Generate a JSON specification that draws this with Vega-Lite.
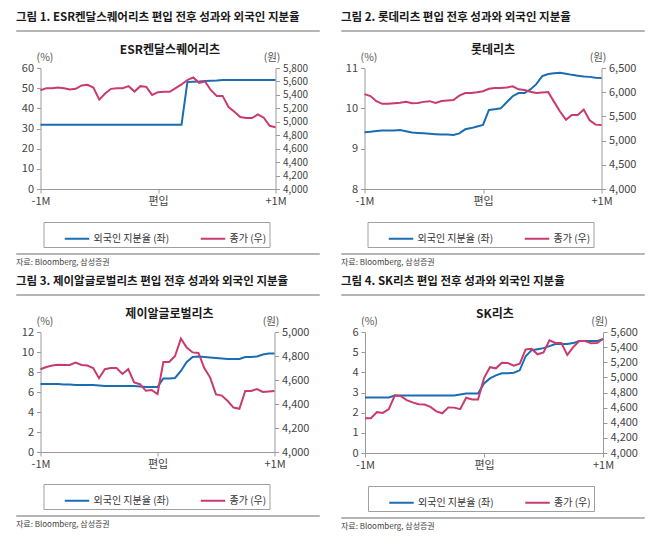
{
"$schema": "https://vega.github.io/schema/vega-lite/v6.json",
"background": "white",
"padding": {"left": 15, "top": 11, "right": 5, "bottom": 5},
"datasets": {
"p1": [{"t":0,"s":31.8,"p":5470},{"t":1,"s":31.8,"p":5500},{"t":2,"s":31.8,"p":5500},{"t":3,"s":31.8,"p":5510},{"t":4,"s":31.8,"p":5500},{"t":5,"s":31.8,"p":5480},{"t":6,"s":31.8,"p":5490},{"t":7,"s":31.8,"p":5540},{"t":8,"s":31.8,"p":5550},{"t":9,"s":31.8,"p":5510},{"t":10,"s":31.8,"p":5330},{"t":11,"s":31.8,"p":5420},{"t":12,"s":31.8,"p":5490},{"t":13,"s":31.8,"p":5500},{"t":14,"s":31.8,"p":5500},{"t":15,"s":31.8,"p":5530},{"t":16,"s":31.8,"p":5450},{"t":17,"s":31.8,"p":5530},{"t":18,"s":31.8,"p":5520},{"t":19,"s":31.8,"p":5400},{"t":20,"s":31.8,"p":5440},{"t":21,"s":31.8,"p":5445},{"t":22,"s":31.8,"p":5445},{"t":23,"s":31.8,"p":5500},{"t":24,"s":31.8,"p":5555},{"t":25,"s":53.0,"p":5620},{"t":26,"s":53.2,"p":5660},{"t":27,"s":53.3,"p":5580},{"t":28,"s":53.5,"p":5600},{"t":29,"s":53.7,"p":5470},{"t":30,"s":53.8,"p":5385},{"t":31,"s":54.0,"p":5385},{"t":32,"s":54.0,"p":5220},{"t":33,"s":54.0,"p":5150},{"t":34,"s":54.0,"p":5070},{"t":35,"s":54.0,"p":5055},{"t":36,"s":54.0,"p":5055},{"t":37,"s":54.0,"p":5110},{"t":38,"s":54.0,"p":5060},{"t":39,"s":54.0,"p":4940},{"t":40,"s":54.0,"p":4920}],
"p2": [{"t":0,"s":9.41,"p":5960},{"t":1,"s":9.42,"p":5920},{"t":2,"s":9.44,"p":5815},{"t":3,"s":9.45,"p":5760},{"t":4,"s":9.45,"p":5760},{"t":5,"s":9.45,"p":5770},{"t":6,"s":9.46,"p":5780},{"t":7,"s":9.43,"p":5800},{"t":8,"s":9.40,"p":5770},{"t":9,"s":9.39,"p":5777},{"t":10,"s":9.38,"p":5800},{"t":11,"s":9.37,"p":5815},{"t":12,"s":9.36,"p":5780},{"t":13,"s":9.35,"p":5818},{"t":14,"s":9.35,"p":5830},{"t":15,"s":9.34,"p":5839},{"t":16,"s":9.38,"p":5930},{"t":17,"s":9.48,"p":5983},{"t":18,"s":9.51,"p":5983},{"t":19,"s":9.55,"p":6000},{"t":20,"s":9.59,"p":6020},{"t":21,"s":9.96,"p":6070},{"t":22,"s":9.98,"p":6087},{"t":23,"s":10.0,"p":6087},{"t":24,"s":10.15,"p":6095},{"t":25,"s":10.3,"p":6120},{"t":26,"s":10.38,"p":6060},{"t":27,"s":10.38,"p":6045},{"t":28,"s":10.47,"p":6010},{"t":29,"s":10.6,"p":5985},{"t":30,"s":10.8,"p":5995},{"t":31,"s":10.85,"p":6004},{"t":32,"s":10.87,"p":5800},{"t":33,"s":10.88,"p":5600},{"t":34,"s":10.86,"p":5430},{"t":35,"s":10.83,"p":5529},{"t":36,"s":10.81,"p":5529},{"t":37,"s":10.79,"p":5640},{"t":38,"s":10.78,"p":5420},{"t":39,"s":10.76,"p":5330},{"t":40,"s":10.75,"p":5322}],
"p3": [{"t":0,"s":6.8,"p":4690},{"t":1,"s":6.8,"p":4708},{"t":2,"s":6.8,"p":4720},{"t":3,"s":6.8,"p":4728},{"t":4,"s":6.75,"p":4725},{"t":5,"s":6.75,"p":4725},{"t":6,"s":6.7,"p":4745},{"t":7,"s":6.7,"p":4725},{"t":8,"s":6.7,"p":4720},{"t":9,"s":6.7,"p":4700},{"t":10,"s":6.65,"p":4615},{"t":11,"s":6.6,"p":4690},{"t":12,"s":6.6,"p":4700},{"t":13,"s":6.6,"p":4700},{"t":14,"s":6.6,"p":4650},{"t":15,"s":6.6,"p":4690},{"t":16,"s":6.6,"p":4580},{"t":17,"s":6.55,"p":4565},{"t":18,"s":6.5,"p":4510},{"t":19,"s":6.5,"p":4517},{"t":20,"s":6.5,"p":4483},{"t":21,"s":7.35,"p":4750},{"t":22,"s":7.35,"p":4750},{"t":23,"s":7.4,"p":4800},{"t":24,"s":8.1,"p":4945},{"t":25,"s":9.0,"p":4870},{"t":26,"s":9.5,"p":4830},{"t":27,"s":9.55,"p":4825},{"t":28,"s":9.5,"p":4700},{"t":29,"s":9.45,"p":4620},{"t":30,"s":9.4,"p":4480},{"t":31,"s":9.35,"p":4470},{"t":32,"s":9.3,"p":4425},{"t":33,"s":9.3,"p":4370},{"t":34,"s":9.3,"p":4360},{"t":35,"s":9.5,"p":4508},{"t":36,"s":9.5,"p":4508},{"t":37,"s":9.55,"p":4525},{"t":38,"s":9.75,"p":4500},{"t":39,"s":9.85,"p":4505},{"t":40,"s":9.85,"p":4508}],
"p4": [{"t":0,"s":2.75,"p":4459},{"t":1,"s":2.75,"p":4459},{"t":2,"s":2.75,"p":4540},{"t":3,"s":2.75,"p":4530},{"t":4,"s":2.75,"p":4580},{"t":5,"s":2.85,"p":4760},{"t":6,"s":2.85,"p":4755},{"t":7,"s":2.85,"p":4700},{"t":8,"s":2.85,"p":4669},{"t":9,"s":2.85,"p":4645},{"t":10,"s":2.85,"p":4642},{"t":11,"s":2.85,"p":4610},{"t":12,"s":2.85,"p":4551},{"t":13,"s":2.85,"p":4525},{"t":14,"s":2.85,"p":4603},{"t":15,"s":2.85,"p":4600},{"t":16,"s":2.9,"p":4580},{"t":17,"s":2.95,"p":4730},{"t":18,"s":2.95,"p":4708},{"t":19,"s":2.95,"p":4708},{"t":20,"s":3.45,"p":4990},{"t":21,"s":3.7,"p":5135},{"t":22,"s":3.85,"p":5120},{"t":23,"s":3.95,"p":5193},{"t":24,"s":3.95,"p":5190},{"t":25,"s":3.98,"p":5155},{"t":26,"s":4.1,"p":5180},{"t":27,"s":4.8,"p":5370},{"t":28,"s":5.1,"p":5377},{"t":29,"s":5.15,"p":5305},{"t":30,"s":5.2,"p":5330},{"t":31,"s":5.3,"p":5490},{"t":32,"s":5.4,"p":5455},{"t":33,"s":5.4,"p":5455},{"t":34,"s":5.4,"p":5298},{"t":35,"s":5.45,"p":5400},{"t":36,"s":5.55,"p":5481},{"t":37,"s":5.55,"p":5481},{"t":38,"s":5.55,"p":5450},{"t":39,"s":5.55,"p":5455},{"t":40,"s":5.65,"p":5508}]
},
"vconcat": [
{"hconcat": [
 {"vconcat": [
  {"vconcat": [
   {"title": {"text": "그림 1. ESR켄달스퀘어리츠 편입 전후 성과와 외국인 지분율", "anchor": "start", "fontSize": 11.5, "fontWeight": "bold", "color": "#1a1a1a", "offset": 7},
    "width": 303, "height": 1, "data": {"values": []}, "mark": "point", "view": {"stroke": "#b5b5b5", "strokeWidth": 1}},
   {"hconcat": [
     {"width": 1, "height": 1, "data": {"values": []}, "mark": "point"},
     {"width": 235, "height": 121,
      "title": {"text": "ESR켄달스퀘어리츠", "fontSize": 12, "fontWeight": "bold", "color": "#1a1a1a", "offset": -5, "dx": 12},
      "data": {"name": "p1"},
      "layer": [
       {"mark": {"type": "line", "strokeWidth": 2},
        "encoding": {
         "x": {"field": "t", "type": "quantitative", "scale": {"domain": [0, 40], "nice": false}, "axis": {"values": [0, 20, 40], "labelExpr": "datum.value == 0 ? '-1M' : (datum.value == 20 ? '편입' : '+1M')", "title": null, "labelFlush": false, "labelPadding": 2}},
         "y": {"field": "s", "type": "quantitative", "scale": {"domain": [0, 60], "nice": false, "zero": false}, "axis": {"orient": "left", "values": [0, 10, 20, 30, 40, 50, 60], "title": "(%)", "titleX": 4, "titleY": -11}},
         "color": {"datum": "외국인 지분율 (좌)", "scale": {"domain": ["외국인 지분율 (좌)", "종가 (우)"], "range": ["#1b6db3", "#c93a6f"]},
          "legend": {"title": "\u3000", "orient": "none", "legendX": 3, "legendY": 154, "labelExpr": "datum.label == '종가 (우)' ? datum.label + '\u3000\u3000' : datum.label"}}}},
       {"mark": {"type": "line", "strokeWidth": 2},
        "encoding": {
         "x": {"field": "t", "type": "quantitative"},
         "y": {"field": "p", "type": "quantitative", "scale": {"domain": [4000, 5800], "nice": false, "zero": false}, "axis": {"orient": "right", "values": [4000, 4200, 4400, 4600, 4800, 5000, 5200, 5400, 5600, 5800], "format": ",d", "title": "(원)", "titleX": -4, "titleY": -11, "labelFontSize": 10}},
         "color": {"datum": "종가 (우)"}}}
      ],
      "resolve": {"scale": {"y": "independent"}}}
   ], "spacing": 3.5, "resolve": {"scale": {"color": "independent"}}}
  ], "spacing": 12, "resolve": {"scale": {"color": "independent"}}},
  {"title": {"text": "자료: Bloomberg, 삼성증권", "orient": "bottom", "anchor": "start", "fontSize": 8, "fontWeight": "normal", "color": "#444", "offset": 5},
   "width": 303, "height": 1, "data": {"values": []}, "mark": "point", "view": {"stroke": "#b5b5b5", "strokeWidth": 1}}
 ], "spacing": 4, "resolve": {"scale": {"color": "independent"}}},
 {"vconcat": [
  {"vconcat": [
   {"title": {"text": "그림 2. 롯데리츠 편입 전후 성과와 외국인 지분율", "anchor": "start", "fontSize": 11.5, "fontWeight": "bold", "color": "#1a1a1a", "offset": 7},
    "width": 303, "height": 1, "data": {"values": []}, "mark": "point", "view": {"stroke": "#b5b5b5", "strokeWidth": 1}},
   {"hconcat": [
     {"width": 1, "height": 1, "data": {"values": []}, "mark": "point"},
     {"width": 237, "height": 121,
      "title": {"text": "롯데리츠", "fontSize": 12, "fontWeight": "bold", "color": "#1a1a1a", "offset": -5, "dx": 10},
      "data": {"name": "p2"},
      "layer": [
       {"mark": {"type": "line", "strokeWidth": 2},
        "encoding": {
         "x": {"field": "t", "type": "quantitative", "scale": {"domain": [0, 40], "nice": false}, "axis": {"values": [0, 20, 40], "labelExpr": "datum.value == 0 ? '-1M' : (datum.value == 20 ? '편입' : '+1M')", "title": null, "labelFlush": false, "labelPadding": 2}},
         "y": {"field": "s", "type": "quantitative", "scale": {"domain": [8, 11], "nice": false, "zero": false}, "axis": {"orient": "left", "values": [8, 9, 10, 11], "title": "(%)", "titleX": 4, "titleY": -11}},
         "color": {"datum": "외국인 지분율 (좌)", "scale": {"domain": ["외국인 지분율 (좌)", "종가 (우)"], "range": ["#1b6db3", "#c93a6f"]},
          "legend": {"title": "\u3000", "orient": "none", "legendX": 3, "legendY": 154, "labelExpr": "datum.label == '종가 (우)' ? datum.label + '\u3000\u3000\u3000\u3000' : datum.label"}}}},
       {"mark": {"type": "line", "strokeWidth": 2},
        "encoding": {
         "x": {"field": "t", "type": "quantitative"},
         "y": {"field": "p", "type": "quantitative", "scale": {"domain": [4000, 6500], "nice": false, "zero": false}, "axis": {"orient": "right", "values": [4000, 4500, 5000, 5500, 6000, 6500], "format": ",d", "title": "(원)", "titleX": -4, "titleY": -11}},
         "color": {"datum": "종가 (우)"}}}
      ],
      "resolve": {"scale": {"y": "independent"}}}
   ], "spacing": 2.5, "resolve": {"scale": {"color": "independent"}}}
  ], "spacing": 12, "resolve": {"scale": {"color": "independent"}}},
  {"title": {"text": "자료: Bloomberg, 삼성증권", "orient": "bottom", "anchor": "start", "fontSize": 8, "fontWeight": "normal", "color": "#444", "offset": 5},
   "width": 303, "height": 1, "data": {"values": []}, "mark": "point", "view": {"stroke": "#b5b5b5", "strokeWidth": 1}}
 ], "spacing": 4, "resolve": {"scale": {"color": "independent"}}}
], "spacing": 20, "resolve": {"scale": {"color": "independent"}}},
{"hconcat": [
 {"vconcat": [
  {"vconcat": [
   {"title": {"text": "그림 3. 제이알글로벌리츠 편입 전후 성과와 외국인 지분율", "anchor": "start", "fontSize": 11.5, "fontWeight": "bold", "color": "#1a1a1a", "offset": 7},
    "width": 303, "height": 1, "data": {"values": []}, "mark": "point", "view": {"stroke": "#b5b5b5", "strokeWidth": 1}},
   {"hconcat": [
     {"width": 1, "height": 1, "data": {"values": []}, "mark": "point"},
     {"width": 234, "height": 120,
      "title": {"text": "제이알글로벌리츠", "fontSize": 12, "fontWeight": "bold", "color": "#1a1a1a", "offset": -5, "dx": 12},
      "data": {"name": "p3"},
      "layer": [
       {"mark": {"type": "line", "strokeWidth": 2},
        "encoding": {
         "x": {"field": "t", "type": "quantitative", "scale": {"domain": [0, 40], "nice": false}, "axis": {"values": [0, 20, 40], "labelExpr": "datum.value == 0 ? '-1M' : (datum.value == 20 ? '편입' : '+1M')", "title": null, "labelFlush": false, "labelPadding": 2}},
         "y": {"field": "s", "type": "quantitative", "scale": {"domain": [0, 12], "nice": false, "zero": false}, "axis": {"orient": "left", "values": [0, 2, 4, 6, 8, 10, 12], "title": "(%)", "titleX": 4, "titleY": -11}},
         "color": {"datum": "외국인 지분율 (좌)", "scale": {"domain": ["외국인 지분율 (좌)", "종가 (우)"], "range": ["#1b6db3", "#c93a6f"]},
          "legend": {"title": "\u3000", "orient": "none", "legendX": 3, "legendY": 152, "labelExpr": "datum.label == '종가 (우)' ? datum.label + '\u3000\u3000' : datum.label"}}}},
       {"mark": {"type": "line", "strokeWidth": 2},
        "encoding": {
         "x": {"field": "t", "type": "quantitative"},
         "y": {"field": "p", "type": "quantitative", "scale": {"domain": [4000, 5000], "nice": false, "zero": false}, "axis": {"orient": "right", "values": [4000, 4200, 4400, 4600, 4800, 5000], "format": ",d", "title": "(원)", "titleX": -4, "titleY": -11}},
         "color": {"datum": "종가 (우)"}}}
      ],
      "resolve": {"scale": {"y": "independent"}}}
   ], "spacing": 3.5, "resolve": {"scale": {"color": "independent"}}}
  ], "spacing": 12, "resolve": {"scale": {"color": "independent"}}},
  {"title": {"text": "자료: Bloomberg, 삼성증권", "orient": "bottom", "anchor": "start", "fontSize": 8, "fontWeight": "normal", "color": "#444", "offset": 5},
   "width": 303, "height": 1, "data": {"values": []}, "mark": "point", "view": {"stroke": "#b5b5b5", "strokeWidth": 1}}
 ], "spacing": 4, "resolve": {"scale": {"color": "independent"}}},
 {"vconcat": [
  {"vconcat": [
   {"title": {"text": "그림 4. SK리츠 편입 전후 성과와 외국인 지분율", "anchor": "start", "fontSize": 11.5, "fontWeight": "bold", "color": "#1a1a1a", "offset": 7},
    "width": 303, "height": 1, "data": {"values": []}, "mark": "point", "view": {"stroke": "#b5b5b5", "strokeWidth": 1}},
   {"hconcat": [
     {"width": 1, "height": 1, "data": {"values": []}, "mark": "point"},
     {"width": 238, "height": 121,
      "title": {"text": "SK리츠", "fontSize": 12, "fontWeight": "bold", "color": "#1a1a1a", "offset": -5, "dx": 11},
      "data": {"name": "p4"},
      "layer": [
       {"mark": {"type": "line", "strokeWidth": 2},
        "encoding": {
         "x": {"field": "t", "type": "quantitative", "scale": {"domain": [0, 40], "nice": false}, "axis": {"values": [0, 20, 40], "labelExpr": "datum.value == 0 ? '-1M' : (datum.value == 20 ? '편입' : '+1M')", "title": null, "labelFlush": false, "labelPadding": 2}},
         "y": {"field": "s", "type": "quantitative", "scale": {"domain": [0, 6], "nice": false, "zero": false}, "axis": {"orient": "left", "values": [0, 1, 2, 3, 4, 5, 6], "title": "(%)", "titleX": 4, "titleY": -11}},
         "color": {"datum": "외국인 지분율 (좌)", "scale": {"domain": ["외국인 지분율 (좌)", "종가 (우)"], "range": ["#1b6db3", "#c93a6f"]},
          "legend": {"title": "\u3000", "orient": "none", "legendX": 3, "legendY": 154, "labelExpr": "datum.label == '종가 (우)' ? datum.label + '\u3000\u3000' : datum.label"}}}},
       {"mark": {"type": "line", "strokeWidth": 2},
        "encoding": {
         "x": {"field": "t", "type": "quantitative"},
         "y": {"field": "p", "type": "quantitative", "scale": {"domain": [4000, 5600], "nice": false, "zero": false}, "axis": {"orient": "right", "values": [4000, 4200, 4400, 4600, 4800, 5000, 5200, 5400, 5600], "format": ",d", "title": "(원)", "titleX": -4, "titleY": -11}},
         "color": {"datum": "종가 (우)"}}}
      ],
      "resolve": {"scale": {"y": "independent"}}}
   ], "spacing": 9, "resolve": {"scale": {"color": "independent"}}}
  ], "spacing": 12, "resolve": {"scale": {"color": "independent"}}},
  {"title": {"text": "자료: Bloomberg, 삼성증권", "orient": "bottom", "anchor": "start", "fontSize": 8, "fontWeight": "normal", "color": "#444", "offset": 5},
   "width": 303, "height": 1, "data": {"values": []}, "mark": "point", "view": {"stroke": "#b5b5b5", "strokeWidth": 1}}
 ], "spacing": 4, "resolve": {"scale": {"color": "independent"}}}
], "spacing": 20, "resolve": {"scale": {"color": "independent"}}}
],
"spacing": 7,
"resolve": {"scale": {"color": "independent"}},
"config": {
 "font": "Noto Sans CJK KR",
 "view": {"stroke": null},
 "axis": {"grid": false, "domainColor": "#9a9a9a", "tickColor": "#9a9a9a", "tickSize": 4, "labelFontSize": 11, "labelColor": "#444", "labelPadding": 3, "titleFontWeight": "normal", "titleFontSize": 10.5, "titleColor": "#555", "titleAngle": 0, "titleAlign": "center", "titleBaseline": "middle"},
 "legend": {"direction": "horizontal", "titleOrient": "left", "titleFontSize": 10, "titlePadding": 17, "strokeColor": "#a0a0a0", "padding": 3, "symbolType": "stroke", "symbolSize": 600, "symbolStrokeWidth": 2, "labelFontSize": 10, "labelColor": "#333", "labelOffset": 3, "columnPadding": 27}
}
}
